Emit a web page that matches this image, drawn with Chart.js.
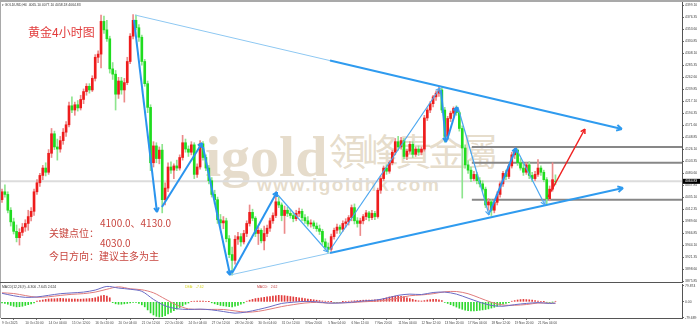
<!DOCTYPE html>
<html lang="zh">
<head>
<meta charset="UTF-8">
<title>黄金4小时图</title>
<script src="https://cdn.jsdelivr.net/npm/chart.js"></script>
<style>
  body { margin: 0; background: #fff; }
  #wrap { position: relative; width: 700px; height: 328px; overflow: hidden; background: #fff; }
  canvas { position: absolute; left: 0; }
  .wm { position: absolute; color: rgba(200, 178, 140, 0.45); line-height: 1; white-space: nowrap; }
  .note { position: absolute; color: #c8463f; font-family: "Noto Sans CJK SC", sans-serif; font-size: 10px; line-height: 10px; white-space: nowrap; }
  .tiny { position: absolute; font-family: "Liberation Sans", sans-serif; font-size: 10px; line-height: 10px; white-space: nowrap; transform: scale(0.34); transform-origin: 0 0; color: #333; }
  .rule { position: absolute; }
</style>
</head>
<body>
<div id="wrap">
  <div class="wm" style="left:205px;top:123px;font:bold 58px 'Liberation Serif',serif;">igold</div>
  <div class="wm" style="left:329px;top:132px;font-size:37px;letter-spacing:-4px;font-family:'Noto Sans CJK TC',sans-serif;">領峰貴金屬</div>
  <div class="wm" style="left:257px;top:174px;font:bold 19px 'Liberation Sans',sans-serif;letter-spacing:1.5px;">www.igoldhk.com</div>

  <canvas id="main" width="700" height="283" style="top:0"></canvas>
  <canvas id="macd" width="700" height="45" style="top:283px"></canvas>

  <div class="rule" style="left:0;top:0;width:700px;height:2px;background:#a9a9a9"></div>
  <div class="rule" style="left:0;top:0;width:1px;height:318px;background:#a9a9a9"></div>
  <div class="rule" style="left:0;top:282px;width:682px;height:1px;background:#555"></div>

  <div class="tiny" style="left:2px;top:3px">▾ GOLDUSD,H4&nbsp; 4065.10 4077.10 4058.18 4064.83</div>
  <div class="tiny" style="left:2px;top:285px">MACD(12,26,9) -6.300 -7.645 2.624</div>
  <div class="tiny" style="left:185px;top:285px;color:#d6d21e">DEA:&nbsp;&nbsp; -7.62</div>
  <div class="tiny" style="left:257px;top:285px;color:#c43c3c">MACD:&nbsp;&nbsp; 2.62</div>

  <div class="note" style="left:28px;top:26px;font-size:12px;line-height:12px;color:#e23c3c">黄金4小时图</div>
  <div class="note" style="left:100px;top:218px">4100.0、4130.0</div>
  <div class="note" style="left:49px;top:228px">关键点位：</div>
  <div class="note" style="left:100px;top:238px">4030.0</div>
  <div class="note" style="left:49px;top:251px">今日方向：建议主多为主</div>
</div>

<script>
// x axis: one unit per 4h candle, a date label every 8 candles
const dateLabels = ["9 Oct 2025", "10 Oct 20:00", "14 Oct 04:00", "15 Oct 12:00", "16 Oct 20:00",
  "20 Oct 04:00", "21 Oct 12:00", "22 Oct 20:00", "24 Oct 04:00", "27 Oct 12:00", "28 Oct 20:00",
  "30 Oct 04:00", "31 Oct 12:00", "3 Nov 20:00", "5 Nov 04:00", "6 Nov 12:00", "7 Nov 20:00",
  "11 Nov 04:00", "12 Nov 12:00", "13 Nov 20:00", "17 Nov 04:00", "18 Nov 12:00", "19 Nov 20:00",
  "21 Nov 04:00"];

const yTicks = [4399.10, 4376.35, 4353.60, 4330.85, 4308.10, 4285.35, 4262.60, 4239.85, 4217.10,
  4194.35, 4171.60, 4148.85, 4126.10, 4103.35, 4080.60, 4057.85, 4035.10, 4012.35, 3989.60,
  3966.85, 3944.10, 3921.35, 3898.60, 3875.85];
const macdTicks = [79.874, 0, -79.689];

// open, high, low, close
const ohlc = [
  [4030,4050,4025,4045],[4045,4058,4035,4040],[4040,4045,4005,4010],[4010,4015,3980,3988],
  [3988,3995,3965,3970],[3970,3982,3950,3958],[3958,3975,3944,3968],[3968,3985,3962,3978],
  [3978,3992,3970,3985],[3985,4010,3972,3998],[3998,4015,3990,4008],[4008,4050,4000,4045],
  [4045,4068,4040,4062],[4062,4080,4055,4076],[4076,4095,4068,4090],[4090,4100,4075,4082],
  [4082,4125,4078,4118],[4118,4165,4110,4155],[4155,4160,4125,4130],[4130,4145,4105,4126],
  [4126,4150,4120,4142],[4142,4165,4135,4158],[4158,4178,4150,4172],[4172,4215,4168,4208],
  [4208,4225,4195,4200],[4200,4215,4190,4210],[4210,4218,4198,4204],[4204,4228,4200,4220],
  [4220,4240,4212,4235],[4235,4250,4228,4245],[4245,4250,4232,4238],[4238,4265,4235,4260],
  [4260,4305,4255,4300],[4300,4312,4290,4306],[4306,4380,4280,4368],[4368,4378,4345,4352],
  [4352,4370,4330,4335],[4335,4340,4270,4278],[4278,4290,4258,4268],[4268,4275,4200,4230],
  [4230,4262,4222,4255],[4255,4262,4230,4238],[4238,4260,4215,4252],[4252,4300,4248,4292],
  [4292,4345,4288,4340],[4340,4381,4335,4370],[4370,4380,4352,4356],[4356,4362,4330,4338],
  [4338,4342,4285,4292],[4292,4296,4245,4250],[4250,4255,4195,4205],[4205,4210,4085,4100],
  [4100,4140,4092,4132],[4132,4138,4100,4108],[4108,4130,4098,4124],[4124,4135,4005,4030],
  [4030,4062,4020,4052],[4052,4100,4045,4092],[4092,4102,4080,4086],[4086,4098,4070,4094],
  [4094,4105,4085,4090],[4090,4115,4086,4110],[4110,4152,4105,4138],[4138,4145,4120,4126],
  [4126,4132,4112,4120],[4120,4140,4115,4134],[4134,4138,4070,4078],[4078,4098,4072,4092],
  [4092,4142,4088,4136],[4136,4140,4105,4110],[4110,4115,4085,4090],[4090,4095,4060,4066],
  [4066,4072,4035,4040],[4040,4048,4022,4030],[4030,4035,3985,3992],[3992,4002,3978,3986],
  [3986,3998,3975,3990],[3990,3995,3950,3956],[3956,3962,3920,3926],[3926,3940,3887,3915],
  [3915,3962,3908,3955],[3955,3968,3945,3960],[3960,3966,3942,3950],[3950,3972,3946,3966],
  [3966,3990,3960,3985],[3985,4020,3980,4006],[4006,4012,3990,3995],[3995,3998,3960,3966],
  [3966,3978,3945,3972],[3972,3975,3948,3952],[3952,3980,3935,3966],[3966,3982,3960,3976],
  [3976,3995,3970,3990],[3990,4005,3985,4000],[4000,4045,3996,4026],[4026,4035,4015,4020],
  [4020,4024,3990,4000],[4000,4018,3966,4010],[4010,4016,3998,4004],[4004,4012,3995,4000],
  [4000,4006,3988,3994],[3994,4010,3990,4004],[4004,4014,3998,4008],[4008,4012,3990,3996],
  [3996,4002,3985,3990],[3990,3998,3980,3984],[3984,3992,3978,3986],[3986,3990,3975,3980],
  [3980,3986,3970,3975],[3975,3982,3964,3970],[3970,3974,3945,3950],[3950,3956,3935,3940],
  [3940,3948,3930,3936],[3936,3965,3932,3960],[3960,3976,3955,3972],[3972,3984,3966,3978],
  [3978,3982,3966,3974],[3974,3990,3970,3985],[3985,3994,3978,3988],[3988,4000,3982,3996],
  [3996,4020,3990,4015],[4015,4022,3984,3990],[3990,3996,3978,3985],[3985,3995,3962,3990],
  [3990,4002,3984,3998],[3998,4010,3992,4005],[4005,4008,3990,3996],[3996,4010,3992,4004],
  [4004,4008,3992,3998],[3998,4052,3995,4048],[4048,4075,4042,4070],[4070,4094,4066,4090],
  [4090,4096,4078,4084],[4084,4104,4080,4100],[4100,4124,4096,4120],[4120,4146,4115,4140],
  [4140,4150,4124,4130],[4130,4148,4126,4142],[4142,4146,4108,4112],[4112,4126,4106,4122],
  [4122,4140,4118,4135],[4135,4140,4110,4116],[4116,4130,4112,4126],[4126,4132,4114,4120],
  [4120,4130,4115,4126],[4126,4190,4122,4185],[4185,4204,4180,4200],[4200,4216,4195,4212],
  [4212,4228,4206,4225],[4225,4236,4218,4232],[4232,4245,4226,4238],[4238,4242,4195,4200],
  [4200,4205,4139,4150],[4150,4188,4145,4184],[4184,4198,4178,4194],[4194,4206,4188,4203],
  [4203,4208,4190,4195],[4195,4198,4160,4165],[4165,4170,4033,4128],[4128,4134,4090,4096],
  [4096,4104,4080,4086],[4086,4092,4064,4070],[4070,4084,4066,4078],[4078,4082,4060,4066],
  [4066,4072,4054,4060],[4060,4066,4046,4050],[4050,4054,4015,4020],[4020,4032,4010,4026],
  [4026,4030,4000,4010],[4010,4030,4005,4025],[4025,4045,4020,4040],[4040,4064,4035,4060],
  [4060,4084,4055,4080],[4080,4086,4068,4074],[4074,4098,4070,4094],[4094,4120,4090,4115],
  [4115,4128,4108,4124],[4124,4126,4095,4100],[4100,4108,4086,4090],[4090,4098,4076,4082],
  [4082,4100,4078,4096],[4096,4102,4070,4076],[4076,4082,4064,4070],[4070,4084,4066,4078],
  [4078,4106,4074,4090],[4090,4094,4076,4082],[4082,4086,4064,4068],[4068,4072,4020,4032],
  [4032,4056,4028,4050],[4050,4100,4046,4068],[4065.10,4077.10,4058.18,4064.83]
];

const macdHist = [
  -5,-8,-12,-18,-22,-25,-24,-22,-18,-14,-10,-5,
  3,6,9,12,14,15,15,16,17,16,15,15,14,14,13,13,14,15,16,17,20,24,
  30,32,28,20,
  -4,-10,-12,-12,-10,-8,-5,-2,-3,-8,-15,
  -25,-40,-55,-65,-72,-75,-73,-68,-60,-52,-44,-36,
  -28,-20,-12,-6,
  2,3,4,3,3,2,1,
  -5,-10,-14,-18,-20,-22,-24,-25,-22,-18,-12,-6,
  3,8,12,16,18,20,22,24,26,28,30,32,31,30,28,26,24,22,
  20,18,16,14,12,10,8,6,4,3,2,1,-2,-3,-2,1,2,3,4,
  5,6,7,8,8,9,9,10,10,12,
  16,20,24,27,28,28,27,26,20,16,12,8,
  5,4,6,9,11,12,12,10,6,
  -3,-8,-14,-20,-26,-32,-37,-41,-44,-45,-45,-44,-42,-40,-38,-35,-31,-27,-22,-17,-12,-8,-4,
  3,6,9,11,12,11,10,8,6,4,
  2,1,-2,-3,-1,2.62
];

// [candle, value] read every 4 candles
const difPoints = [[0,42],[4,30],[8,22],[12,24],[16,32],[20,40],[24,44],[28,48],[32,58],[36,76],
  [40,68],[44,62],[48,52],[52,12],[56,-20],[60,-34],[64,-38],[68,-36],[72,-40],[76,-48],[80,-56],
  [84,-50],[88,-38],[92,-24],[96,-8],[100,-2],[104,2],[108,0],[112,-6],[116,-6],[120,-2],[124,4],
  [128,8],[132,18],[136,32],[140,38],[144,36],[148,46],[152,48],[156,38],[160,18],[164,-2],
  [168,-18],[172,-22],[176,-14],[180,-8],[184,-4],[188,-8],[190,-6.3]];
const deaPoints = [[0,44.5],[4,41],[8,31],[12,22.5],[16,25],[20,31.5],[24,37],[28,40.5],[32,48],
  [36,62],[40,74],[44,64.5],[48,59.5],[52,44.5],[56,14],[60,-16],[64,-35],[68,-37.5],[72,-37.5],
  [76,-38],[80,-45],[84,-51.5],[88,-47],[92,-36],[96,-23.5],[100,-14],[104,-6],[108,-3],
  [112,-6.5],[116,-5],[120,-4],[124,0],[128,3],[132,8],[136,18],[140,30],[144,34],[148,40],
  [152,49.5],[156,51],[160,40],[164,19],[168,-2.5],[172,-16],[176,-17],[180,-13.5],[184,-6],
  [188,-6.5],[190,-7.62]];

const keyLevels = [4130, 4100, 4030];
const keyLevelStart = 161.3;
const lastPrice = 4064.83;

// drawn trend lines: [candle, price] end points
const upperLine = [[45.66, 4380.1], [112.6, 4293.7], [212.8, 4164.0]];
const lowerLine = [[78.3, 3887.2], [112.6, 3928.9], [213.2, 4052.1]];
const waveArrows = [
  [[45.3, 4370.7], [53.2, 4006.6]],
  [[54.9, 4016.1], [68.7, 4137.4]],
  [[69.0, 4129.9], [78.3, 3887.2]],
  [[79.0, 3891.0], [94.4, 4044.5]],
  [[94.7, 4038.9], [111.9, 3930.8]],
  [[112.6, 3934.6], [150.4, 4241.7]],
  [[150.7, 4237.9], [152.4, 4139.3]],
  [[152.8, 4143.1], [156.2, 4205.7]],
  [[156.5, 4205.7], [167.2, 4001.0]],
  [[167.5, 4006.6], [176.5, 4128.0]],
  [[176.8, 4124.2], [186.4, 4019.9]]
];
const forecastArrow = [[187.4, 4035.1], [200.1, 4164.0]];

const xMin = -0.343, xMax = 233.44;
const yMin = 3873.97, yMax = 4404.79;
const upColor = '#ee1c1c', downColor = '#1fdc1f';
const thinWaves = [4, 5, 8, 10];

const pts = arr => arr.map(([x, y]) => ({x, y}));

const arrowHeads = {
  id: 'arrowHeads',
  afterDatasetsDraw(chart) {
    const ctx = chart.ctx;
    chart.data.datasets.forEach((ds, i) => {
      if (!ds.arrowHead) return;
      const el = chart.getDatasetMeta(i).data;
      const a = el[el.length - 2], b = el[el.length - 1];
      const ang = Math.atan2(b.y - a.y, b.x - a.x);
      ctx.save();
      ctx.strokeStyle = ds.borderColor;
      ctx.lineWidth = ds.borderWidth;
      ctx.beginPath();
      for (const s of [-1, 1]) {
        ctx.moveTo(b.x, b.y);
        ctx.lineTo(b.x - ds.arrowHead * Math.cos(ang + s * 0.5), b.y - ds.arrowHead * Math.sin(ang + s * 0.5));
      }
      ctx.stroke();
      ctx.restore();
    });
  }
};

const priceTag = {
  id: 'priceTag',
  afterDraw(chart) {
    const ctx = chart.ctx;
    const y = chart.scales.y.getPixelForValue(lastPrice);
    const x = chart.chartArea.right + 1;
    ctx.save();
    ctx.fillStyle = '#000';
    ctx.fillRect(x, y - 2.5, 18, 5);
    ctx.fillStyle = '#fff';
    ctx.font = '3.4px "Liberation Sans"';
    ctx.textBaseline = 'middle';
    ctx.fillText(lastPrice.toFixed(2), x + 2, y);
    ctx.restore();
  }
};

function lineSet(points, color, width, order, head) {
  return { type: 'line', data: pts(points), borderColor: color, borderWidth: width,
    pointRadius: 0, tension: 0, order: order, arrowHead: head || 0 };
}

const mainSets = [];
mainSets.push(lineSet([[xMin, lastPrice], [xMax, lastPrice]], '#dcdcdc', 2, 20));
keyLevels.forEach(v => mainSets.push(lineSet([[keyLevelStart, v], [xMax, v]], '#878787', 2, 19)));
mainSets.push({
  type: 'bar', data: ohlc.map((r, i) => ({x: i, y: [r[2], r[1]]})),
  barThickness: 1, grouped: false, order: 12,
  backgroundColor: c => ohlc[c.dataIndex][3] >= ohlc[c.dataIndex][0] ? '#ec8a8a' : '#8ee58e'
});
mainSets.push({
  type: 'bar', data: ohlc.map((r, i) => ({x: i, y: [r[0], r[3]]})),
  barThickness: 2, grouped: false, order: 11,
  backgroundColor: c => ohlc[c.dataIndex][3] >= ohlc[c.dataIndex][0] ? upColor : downColor
});
mainSets.push(lineSet(upperLine.slice(0, 2), '#8ec8f2', 1, 2));
mainSets.push(lineSet(upperLine.slice(1), '#2f9bef', 2, 2, 6));
mainSets.push(lineSet(lowerLine.slice(0, 2), '#8ec8f2', 1, 2));
mainSets.push(lineSet(lowerLine.slice(1), '#2f9bef', 2, 2, 6));
waveArrows.forEach((w, k) => {
  const thin = thinWaves.includes(k);
  mainSets.push(lineSet(w, thin ? '#4aa6f0' : '#2a94ee', thin ? 1.2 : 2, 1, 5));
});
mainSets.push(lineSet(forecastArrow, '#f02020', 1.5, 1, 5));

new Chart(document.getElementById('main'), {
  type: 'bar',
  data: { datasets: mainSets },
  options: {
    responsive: false, animation: false, events: [],
    layout: { padding: { left: 1, top: 2, right: 0, bottom: 1 } },
    plugins: { legend: { display: false }, tooltip: { enabled: false } },
    scales: {
      x: { type: 'linear', min: xMin, max: xMax, offset: false, display: false },
      y: {
        position: 'right', min: yMin, max: yMax,
        afterBuildTicks: s => { s.ticks = yTicks.map(v => ({value: v})); },
        afterFit: s => { s.width = 18; s.paddingTop = 0; s.paddingBottom = 0; },
        ticks: { autoSkip: false, padding: 1, color: '#444',
          font: { family: 'Liberation Sans', size: 3.4 }, callback: v => v.toFixed(2) },
        grid: { drawOnChartArea: false, tickLength: 2, color: '#666' },
        border: { display: true, color: '#555' }
      }
    }
  },
  plugins: [arrowHeads, priceTag]
});

new Chart(document.getElementById('macd'), {
  type: 'bar',
  data: {
    datasets: [
      { type: 'line', data: pts(difPoints), borderColor: '#6b6bc4', borderWidth: 1, pointRadius: 0, tension: 0.3, order: 1 },
      { type: 'line', data: pts(deaPoints), borderColor: '#e07c7c', borderWidth: 1, pointRadius: 0, tension: 0.3, order: 2 },
      { type: 'bar', data: macdHist.map((v, i) => ({x: i, y: v})), barThickness: 1, grouped: false, order: 3,
        backgroundColor: c => macdHist[c.dataIndex] >= 0 ? '#e23b3b' : '#2ed82e' }
    ]
  },
  options: {
    responsive: false, animation: false, events: [],
    layout: { padding: { left: 1, top: 1, right: 0, bottom: 0 } },
    plugins: { legend: { display: false }, tooltip: { enabled: false } },
    scales: {
      x: {
        type: 'linear', min: xMin, max: xMax, offset: false,
        afterBuildTicks: s => { s.ticks = dateLabels.map((_, k) => ({value: k * 8})); },
        afterFit: s => { s.height = 10; s.paddingLeft = 0; s.paddingRight = 0; },
        ticks: { autoSkip: false, maxRotation: 0, align: 'start', padding: 1, color: '#444',
          font: { family: 'Liberation Sans', size: 3.2 }, callback: (v, k) => dateLabels[k] },
        grid: { drawOnChartArea: false, tickLength: 2, color: '#777' },
        border: { display: true, color: '#555' }
      },
      y: {
        position: 'right', min: -80, max: 88,
        afterBuildTicks: s => { s.ticks = macdTicks.map(v => ({value: v})); },
        afterFit: s => { s.width = 18; s.paddingTop = 0; s.paddingBottom = 0; },
        ticks: { autoSkip: false, padding: 1, color: '#444',
          font: { family: 'Liberation Sans', size: 3.4 }, callback: v => v === 0 ? '0.00' : String(v) },
        grid: { drawOnChartArea: false, tickLength: 2, color: '#666' },
        border: { display: true, color: '#555' }
      }
    }
  }
});
</script>
</body>
</html>
